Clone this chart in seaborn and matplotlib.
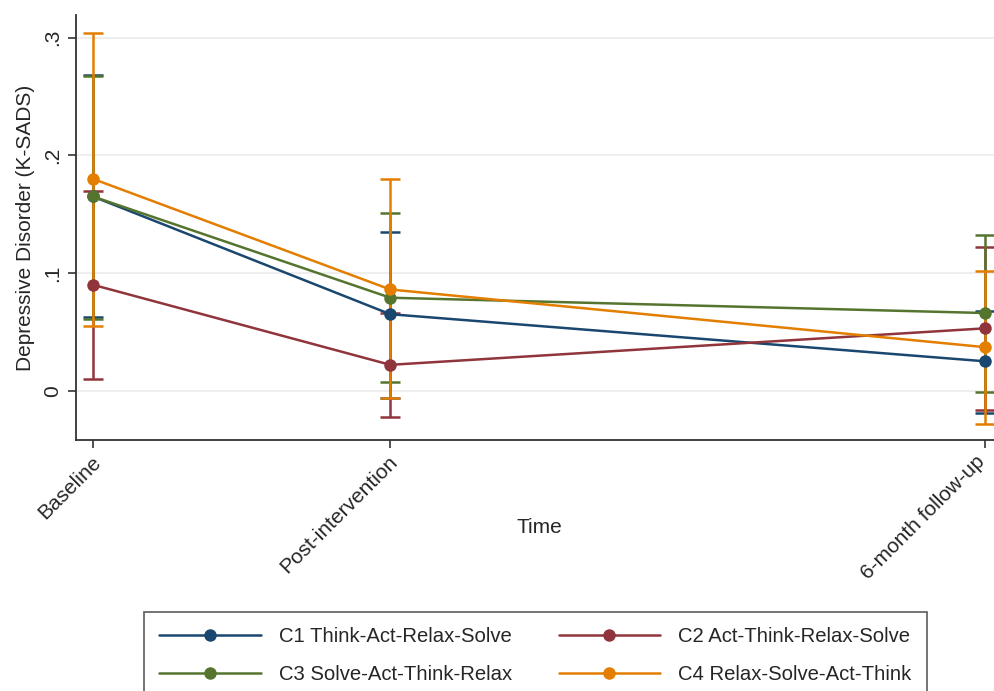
import numpy as np
import pandas as pd
import matplotlib
matplotlib.use("Agg")
import matplotlib.pyplot as plt
import matplotlib.transforms as mtransforms
import seaborn as sns
from matplotlib.lines import Line2D

# ---- data ----
time_labels = ["Baseline", "Post-intervention", "6-month follow-up"]
time_pos = [0, 3, 9]
groups = ["C1 Think-Act-Relax-Solve", "C2 Act-Think-Relax-Solve",
          "C3 Solve-Act-Think-Relax", "C4 Relax-Solve-Act-Think"]
c1_mean = [0.165, 0.065, 0.025]
c1_lo = [0.063, -0.006, -0.019]
c1_hi = [0.268, 0.135, 0.068]
c2_mean = [0.090, 0.022, 0.053]
c2_lo = [0.010, -0.022, -0.016]
c2_hi = [0.170, 0.066, 0.122]
c3_mean = [0.165, 0.079, 0.066]
c3_lo = [0.061, 0.007, -0.001]
c3_hi = [0.267, 0.151, 0.132]
c4_mean = [0.180, 0.086, 0.037]
c4_lo = [0.055, -0.006, -0.028]
c4_hi = [0.304, 0.180, 0.102]
colors = ["#1a476f", "#90353b", "#55752f", "#e37e00"]

means = [c1_mean, c2_mean, c3_mean, c4_mean]
los = [c1_lo, c2_lo, c3_lo, c4_lo]
his = [c1_hi, c2_hi, c3_hi, c4_hi]

rows = []
for g, m in zip(groups, means):
    for t, v in zip(time_pos, m):
        rows.append({"Time": t, "value": v, "group": g})
df = pd.DataFrame(rows)

sns.set_theme(style="white")
plt.rcParams["font.family"] = ["Liberation Sans", "DejaVu Sans"]

FS = 15
fig = plt.figure(figsize=(9.94, 6.91), dpi=100)
ax = fig.add_axes([0.0765, 0.363, 0.9235, 0.615])

for yv in [0, 0.1, 0.2, 0.3]:
    ax.axhline(yv, color="#ebebeb", lw=1.2, zorder=0)

for m, lo, hi, c in zip(means, los, his, colors):
    m = np.array(m); lo = np.array(lo); hi = np.array(hi)
    ax.errorbar(time_pos, m, yerr=[m - lo, hi - m], fmt="none", ecolor=c,
                elinewidth=1.8, capsize=7, capthick=1.8, zorder=2)

sns.lineplot(data=df, x="Time", y="value", hue="group", palette=colors,
             marker="o", markersize=9, markeredgewidth=0, linewidth=1.8,
             ax=ax, legend=False, zorder=3)

ax.set_xlim(-0.17, 9.09)
ax.set_ylim(-0.042, 0.319)
ax.set_xticks(time_pos)
ax.set_xticklabels([])
# x tick labels drawn as rotated texts anchored below each tick
base = mtransforms.blended_transform_factory(ax.transData, ax.transAxes)
for i, (t, lab) in enumerate(zip(time_pos, time_labels)):
    dx = -10 / 100 if i == len(time_pos) - 1 else -2 / 100
    tr = base + mtransforms.ScaledTranslation(dx, -12 / 100, fig.dpi_scale_trans)
    ax.text(t, 0, lab, transform=tr, rotation=45, ha="right", va="top",
            rotation_mode="anchor", fontsize=FS, color="#262626")

ax.set_yticks([0, 0.1, 0.2, 0.3])
ax.set_yticklabels(["0", ".1", ".2", ".3"], rotation=90, va="center", fontsize=FS)
ax.set_xlabel("Time", fontsize=FS)
ax.xaxis.set_label_coords(0.505, -0.205)
ax.xaxis.label.set_va("center")
ax.set_ylabel("Depressive Disorder (K-SADS)", fontsize=FS, labelpad=6)
ax.tick_params(axis="both", which="both", length=6, width=1.2, color="#333333",
               direction="out", left=True, bottom=True, pad=4)
for s in ["top", "right"]:
    ax.spines[s].set_visible(False)
for s in ["left", "bottom"]:
    ax.spines[s].set_color("#333333")
    ax.spines[s].set_linewidth(1.3)

handles = [Line2D([], [], color=c, marker="o", markersize=9, lw=1.8,
                  markeredgewidth=0) for c in colors]
order = [0, 2, 1, 3]  # row-wise fill: C1 C2 / C3 C4
leg = fig.legend([handles[i] for i in order], [groups[i] for i in order],
                 loc="upper left", ncol=2, bbox_to_anchor=(0.145, 0.1143),
                 borderaxespad=0, fontsize=14.6,
                 handlelength=5.0, columnspacing=2.3, handletextpad=0.9,
                 frameon=True, fancybox=False, borderpad=0.75, labelspacing=0.95)
leg.get_frame().set_edgecolor("#333333")
leg.get_frame().set_linewidth(1.2)

fig.savefig("out.png", dpi=100)
